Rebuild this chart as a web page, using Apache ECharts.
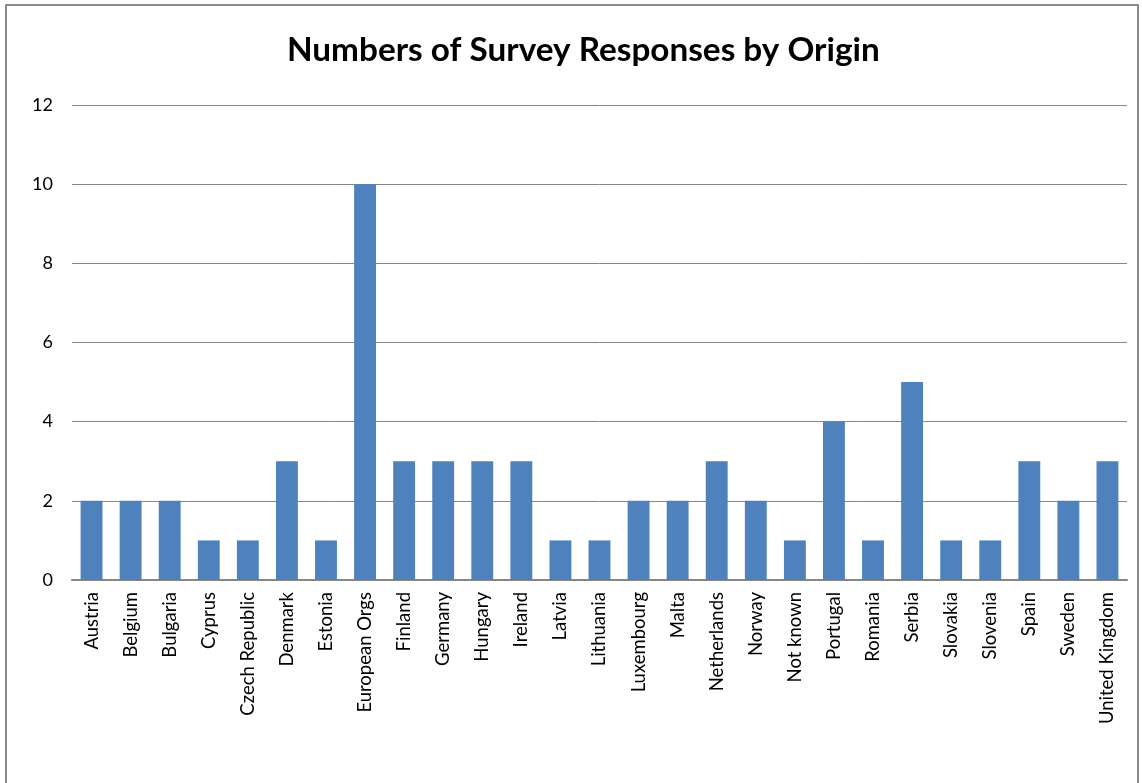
<!DOCTYPE html>
<html>
<head>
<meta charset="utf-8">
<script src="https://cdn.jsdelivr.net/npm/echarts@6/dist/echarts.min.js"></script>
<style>
  html, body { margin: 0; padding: 0; background: #fff; }
  #chart { width: 1142px; height: 783px; }
</style>
</head>
<body>
<div id="chart"></div>
<script>
// Survey responses per country of origin
const categories = [
  'Austria', 'Belgium', 'Bulgaria', 'Cyprus', 'Czech Republic', 'Denmark', 'Estonia',
  'European Orgs', 'Finland', 'Germany', 'Hungary', 'Ireland', 'Latvia', 'Lithuania',
  'Luxembourg', 'Malta', 'Netherlands', 'Norway', 'Not known', 'Portugal', 'Romania',
  'Serbia', 'Slovakia', 'Slovenia', 'Spain', 'Sweden', 'United Kingdom'
];
const responses = [
  2, 2, 2, 1, 1, 3, 1,
  10, 3, 3, 3, 3, 1, 1,
  2, 2, 3, 2, 1, 4, 1,
  5, 1, 1, 3, 2, 3
];
const yTicks = { min: 0, max: 12, interval: 2 };

const font = 'Lato, "Open Sans", "DejaVu Sans", sans-serif';
const chart = echarts.init(document.getElementById('chart'));
chart.setOption({
  animation: false,
  backgroundColor: '#ffffff',
  graphic: [{
    type: 'rect',
    shape: { x: 6, y: 5, width: 1132, height: 820 },
    style: { fill: 'none', stroke: '#8a8a8a', lineWidth: 2 },
    silent: true
  }],
  title: {
    text: 'Numbers of Survey Responses by Origin',
    left: 282,
    top: 29,
    textStyle: { fontFamily: font, fontWeight: 'bold', fontSize: 33.3, color: '#000' }
  },
  grid: { left: 72, right: 15, top: 105, bottom: 203, containLabel: false },
  xAxis: {
    type: 'category',
    data: categories,
    axisLine: { lineStyle: { color: '#868686', width: 2 } },
    axisTick: { show: false },
    axisLabel: {
      rotate: 90,
      interval: 0,
      margin: 12,
      color: '#000',
      fontFamily: font,
      fontSize: 18.5
    }
  },
  yAxis: {
    type: 'value',
    min: yTicks.min,
    max: yTicks.max,
    interval: yTicks.interval,
    axisLine: { show: false },
    axisTick: { show: false },
    splitLine: { lineStyle: { color: '#868686', width: 1 } },
    axisLabel: { margin: 19, color: '#000', fontFamily: font, fontSize: 18 }
  },
  series: [{
    type: 'bar',
    data: responses,
    barCategoryGap: '44%',
    itemStyle: { color: '#4F81BD' }
  }]
});
</script>
</body>
</html>
